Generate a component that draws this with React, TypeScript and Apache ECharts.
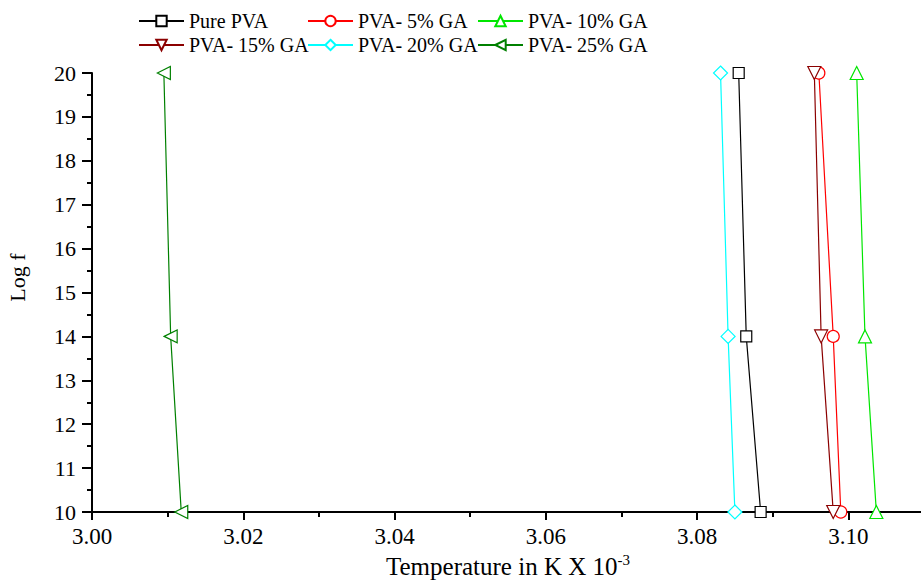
import React, { useEffect, useRef } from "react";
import * as echarts from "echarts";

const yLevels = [20, 14, 10];
const pureX = [3.0855, 3.0865, 3.0884];
const ga5X = [3.0961, 3.098, 3.099];
const ga10X = [3.1011, 3.1022, 3.1037];
const ga15X = [3.0955, 3.0964, 3.098];
const ga20X = [3.0831, 3.0841, 3.085];
const ga25X = [3.0095, 3.0104, 3.0118];

const seriesNames = ["Pure PVA", "PVA- 5% GA", "PVA- 10% GA", "PVA- 15% GA", "PVA- 20% GA", "PVA- 25% GA"];
const seriesX = [pureX, ga5X, ga10X, ga15X, ga20X, ga25X];
const colors = ["#000000", "#ff0000", "#00e600", "#8b0000", "#00ffff", "#008000"];
const symbols = ["rect", "circle", "triangle", "triangle", "diamond", "triangle"];
const rotations = [0, 0, 0, 180, 0, 90];
const sizes = [11, 12, 13, 13, 14, 13];

const FONT = "Liberation Serif";

export default function App() {
  const ref = useRef<HTMLDivElement>(null);
  useEffect(() => {
    if (!ref.current) return;
    const chart = echarts.init(ref.current, null, { renderer: "svg" });
    const legendPos = [
      [138, 11],
      [307, 11],
      [477, 11],
      [138, 35],
      [307, 35],
      [477, 35],
    ];
    const legends = seriesNames.map((n, i) => ({
      data: [n],
      left: legendPos[i][0],
      top: legendPos[i][1],
      padding: 0,
      itemWidth: 45,
      itemHeight: 13,
      itemGap: 5,
      textStyle: { fontFamily: FONT, fontSize: 20, color: "#000" },
    }));
    const series = seriesNames.map((n, i) => ({
      name: n,
      type: "line",
      data: seriesX[i].map((x, j) => [x, yLevels[j]]),
      symbol: symbols[i],
      symbolRotate: rotations[i],
      symbolSize: sizes[i],
      showAllSymbol: true,
      lineStyle: { color: colors[i], width: 1.2 },
      itemStyle: { color: "#ffffff", borderColor: colors[i], borderWidth: 1.2 },
      emphasis: { disabled: true },
      z: 3 + i,
    }));
    chart.setOption({
      animation: false,
      backgroundColor: "#ffffff",
      legend: legends,
      grid: {
        left: 92,
        top: 73,
        width: 832,
        height: 439,
        containLabel: false,
        outerBoundsMode: "none",
      },
      xAxis: {
        type: "value",
        min: 3.0,
        max: 3.11,
        interval: 0.02,
        name: "Temperature in K X 10{sup|-3}",
        nameLocation: "middle",
        nameGap: 40,
        nameTextStyle: {
          fontFamily: FONT,
          fontSize: 25,
          color: "#000",
          rich: {
            sup: { fontFamily: FONT, fontSize: 15, color: "#000", padding: [0, 0, 12, 0] },
          },
        },
        axisLine: { show: true, onZero: false, lineStyle: { color: "#000", width: 2 } },
        axisTick: { show: true, inside: false, length: 8, lineStyle: { color: "#000", width: 2 } },
        minorTick: { show: true, splitNumber: 2, length: 5, lineStyle: { color: "#000", width: 2 } },
        splitLine: { show: false },
        axisLabel: {
          fontFamily: FONT,
          fontSize: 23,
          color: "#000",
          margin: 13,
          formatter: (v: number) => v.toFixed(2),
          showMaxLabel: false,
        },
      },
      yAxis: {
        type: "value",
        min: 10,
        max: 20,
        interval: 1,
        name: "Log f",
        nameLocation: "middle",
        nameRotate: 90,
        nameGap: 64,
        nameTextStyle: { fontFamily: FONT, fontSize: 22, color: "#000", padding: [0, 0, 0, 30] },
        axisLine: { show: true, onZero: false, lineStyle: { color: "#000", width: 2 } },
        axisTick: { show: true, inside: false, length: 10, lineStyle: { color: "#000", width: 2 } },
        minorTick: { show: true, splitNumber: 2, length: 5, lineStyle: { color: "#000", width: 2 } },
        splitLine: { show: false },
        axisLabel: { fontFamily: FONT, fontSize: 22, color: "#000", margin: 16 },
      },
      series,
    });
    return () => chart.dispose();
  }, []);
  return (
    <div
      ref={ref}
      style={{ position: "fixed", left: 0, top: 0, width: 921, height: 583, background: "#fff" }}
    />
  );
}
